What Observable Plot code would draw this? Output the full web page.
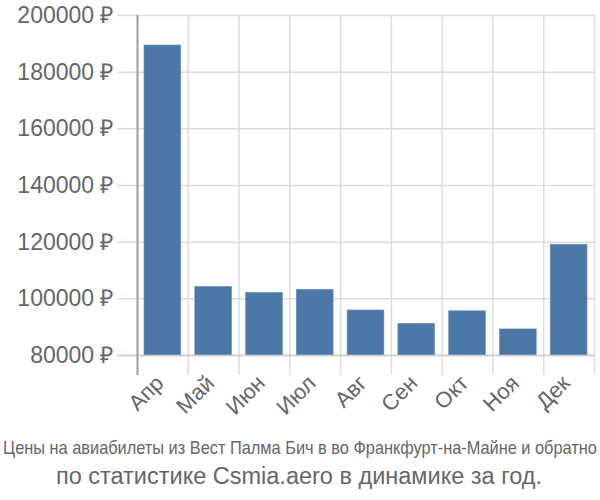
<!DOCTYPE html>
<html>
<head>
<meta charset="utf-8">
<script src="https://cdn.jsdelivr.net/npm/d3@7"></script>
<script src="https://cdn.jsdelivr.net/npm/@observablehq/plot@0.6"></script>
<style>
  html, body { margin: 0; padding: 0; background: #fff; }
  #wrap { position: relative; width: 600px; height: 500px; overflow: hidden; }
  #chart { position: absolute; left: 0; top: 0; }
  #caption { position: absolute; left: 0; top: 430px; }
</style>
</head>
<body>
<div id="wrap">
  <div id="chart"></div>
  <svg id="caption" width="600" height="70"></svg>
</div>
<script>
const months = ["Апр", "Май", "Июн", "Июл", "Авг", "Сен", "Окт", "Ноя", "Дек"];
const prices = [189400, 104200, 102100, 103200, 95900, 91200, 95600, 89200, 119100];
const yTicks = [80000, 100000, 120000, 140000, 160000, 180000, 200000];
const yDomain = [80000, 200000];
const captionLines = [
  "Цены на авиабилеты из Вест Палма Бич в во Франкфурт-на-Майне и обратно",
  "по статистике Csmia.aero в динамике за год."
];

const data = months.map((m, i) => ({m, i, v: prices[i]}));
const bounds = d3.range(months.length + 1);

const plot = Plot.plot({
  width: 600,
  height: 430,
  marginTop: 15,
  marginBottom: 75,
  marginLeft: 137,
  marginRight: 6,
  x: {domain: [0, months.length], axis: null},
  y: {domain: yDomain, axis: null},
  style: {fontFamily: "'Liberation Sans', Arial, sans-serif", background: "white", overflow: "visible"},
  marks: [
    Plot.ruleY(yTicks, {y: d => d, stroke: "#dddddd", strokeWidth: 1.5, insetLeft: -20}),
    Plot.ruleX(bounds, {x: d => d, stroke: "#dddddd", strokeWidth: 1.5, insetBottom: -20}),
    Plot.rectY(data, {
      x1: "i", x2: d => d.i + 1, y1: yDomain[0], y2: "v",
      insetLeft: 7, insetRight: 7, fill: "#4c78a8", stroke: "#6b8fb8", strokeWidth: 0.6
    }),
    Plot.ruleY([yDomain[0]], {stroke: "#cccccc", strokeWidth: 1.5, insetLeft: -20}),
    Plot.ruleX([0], {stroke: "#a0a0a0", strokeWidth: 2, insetBottom: -20}),
    Plot.text(yTicks, {
      x: 0, y: d => d, text: d => d + " ₽", textAnchor: "end", dx: -24,
      fontSize: 23, fill: "#666666"
    }),
    Plot.text(data, {
      x: d => d.i + 0.5, y: yDomain[0], text: "m", rotate: -45, textAnchor: "end",
      dx: -3, dy: 24, fontSize: 22, fill: "#666666"
    })
  ]
});
document.getElementById("chart").appendChild(plot);

const cap = d3.select("#caption");
const g1 = cap.append("g");
const t1 = g1.append("text")
  .attr("x", 0).attr("y", 0)
  .attr("text-anchor", "middle")
  .style("font-family", "'Liberation Sans', Arial, sans-serif")
  .style("font-size", "19px").style("fill", "#666")
  .text(captionLines[0]);
const len1 = t1.node().getComputedTextLength();
const sx = Math.min(1, 594 / len1);
g1.attr("transform", `translate(300,${454 - 430}) scale(${sx},1)`);

cap.append("text")
  .attr("x", 299).attr("y", 484 - 430)
  .attr("text-anchor", "middle")
  .style("font-family", "'Liberation Sans', Arial, sans-serif")
  .style("font-size", "23.5px").style("fill", "#666")
  .text(captionLines[1]);
</script>
</body>
</html>
